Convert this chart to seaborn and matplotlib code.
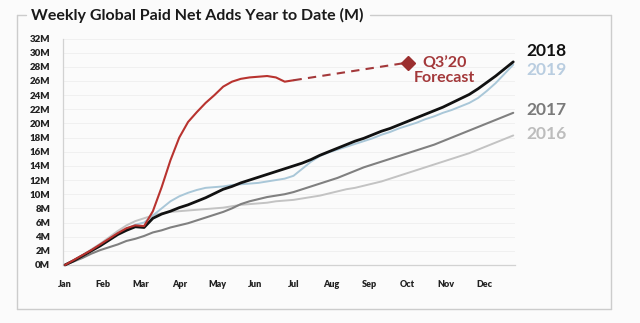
import numpy as np
import pandas as pd
import matplotlib
matplotlib.use("Agg")
import matplotlib.pyplot as plt
from matplotlib.lines import Line2D
import seaborn as sns

# Cumulative paid net adds (millions), one value per week of the year
weeks = list(range(52))
adds_2016 = [0.0, 0.7, 1.4, 2.2, 3.0, 3.9, 4.8, 5.6, 6.2, 6.6, 7.0, 7.3, 7.5, 7.6, 7.7, 7.8,
             7.9, 8.0, 8.1, 8.3, 8.5, 8.6, 8.7, 8.8, 9.0, 9.1, 9.2, 9.4, 9.6, 9.8, 10.1, 10.4,
             10.7, 10.9, 11.2, 11.5, 11.8, 12.2, 12.6, 13.0, 13.4, 13.8, 14.2, 14.6, 15.0, 15.4,
             15.8, 16.3, 16.8, 17.3, 17.8, 18.3]
adds_2017 = [0.0, 0.5, 1.0, 1.6, 2.1, 2.5, 2.9, 3.4, 3.7, 4.1, 4.6, 4.9, 5.3, 5.6, 5.9, 6.3,
             6.7, 7.1, 7.5, 8.0, 8.6, 9.0, 9.3, 9.6, 9.8, 10.0, 10.3, 10.7, 11.1, 11.5, 11.9, 12.3,
             12.8, 13.3, 13.8, 14.2, 14.6, 15.0, 15.4, 15.8, 16.2, 16.6, 17.0, 17.5, 18.0, 18.5,
             19.0, 19.5, 20.0, 20.5, 21.0, 21.5]
adds_2018 = [0.0, 0.6, 1.3, 2.0, 2.7, 3.5, 4.3, 4.9, 5.4, 5.3, 6.6, 7.2, 7.6, 8.1, 8.5, 9.0,
             9.5, 10.1, 10.7, 11.1, 11.6, 12.0, 12.4, 12.8, 13.2, 13.6, 14.0, 14.4, 14.9, 15.5, 16.0, 16.5,
             17.0, 17.5, 17.9, 18.4, 18.9, 19.3, 19.8, 20.3, 20.8, 21.3, 21.8, 22.3, 22.9, 23.5,
             24.1, 24.9, 25.8, 26.7, 27.7, 28.7]
adds_2019 = [0.0, 0.7, 1.4, 2.1, 2.8, 3.6, 4.4, 5.1, 5.7, 6.0, 7.0, 8.0, 9.0, 9.7, 10.2, 10.6,
             10.9, 11.0, 11.1, 11.3, 11.4, 11.5, 11.6, 11.8, 12.0, 12.2, 12.6, 13.6, 14.6, 15.4, 15.9, 16.3,
             16.7, 17.1, 17.5, 17.9, 18.4, 18.8, 19.3, 19.7, 20.1, 20.6, 21.0, 21.5, 21.9, 22.4,
             22.9, 23.6, 24.6, 25.7, 27.0, 28.3]
weeks_2020 = list(range(27))
adds_2020 = [0.0, 0.7, 1.4, 2.1, 2.9, 3.7, 4.5, 5.2, 5.6, 5.5, 7.6, 11.0, 14.8, 18.0, 20.2, 21.6,
             22.9, 24.0, 25.2, 25.9, 26.3, 26.5, 26.6, 26.7, 26.5, 25.9, 26.1]

# Q3'20 forecast segment
forecast_weeks = [26, 39]
forecast_adds = [26.1, 28.6]

months = ["Jan", "Feb", "Mar", "Apr", "May", "Jun", "Jul", "Aug", "Sep", "Oct", "Nov", "Dec"]
y_ticks = list(range(0, 33, 2))

colors = {"2016": "#c3c3c3", "2017": "#808080", "2019": "#a9c7d8", "2018": "#111111", "2020": "#b8332f"}
widths = {"2016": 1.4, "2017": 1.5, "2019": 1.4, "2018": 2.0, "2020": 1.5}
label_colors = {"2018": "#111111", "2019": "#b9cde0", "2017": "#7a7a7a", "2016": "#bdbdbd"}
label_y = {"2018": 30.2, "2019": 27.6, "2017": 21.9, "2016": 18.5}

frames = []
for yr, vals in [("2016", adds_2016), ("2017", adds_2017), ("2019", adds_2019), ("2018", adds_2018)]:
    frames.append(pd.DataFrame({"week": weeks, "adds": vals, "year": yr}))
frames.append(pd.DataFrame({"week": weeks_2020, "adds": adds_2020, "year": "2020"}))
df = pd.concat(frames, ignore_index=True)

sns.set_theme(style="white")
plt.rcParams["font.family"] = ["Lato", "DejaVu Sans"]

bg = "#fbfbfb"
fig = plt.figure(figsize=(6.4, 3.23), dpi=100, facecolor=bg)
ax = fig.add_axes([0.0981, 0.1796, 0.7066, 0.7012])
ax.set_facecolor(bg)

for yr in ["2016", "2017", "2019", "2018", "2020"]:
    sns.lineplot(data=df[df["year"] == yr], x="week", y="adds", color=colors[yr],
                 lw=widths[yr], ax=ax, legend=False, clip_on=False, zorder=3)

ax.plot(forecast_weeks, forecast_adds, ls=(0, (4, 3)), color="#a3383a", lw=1.5, clip_on=False, zorder=3)
ax.plot(forecast_weeks[-1:], forecast_adds[-1:], marker="D", ms=7, color="#9b2f2f",
        ls="none", clip_on=False, zorder=4)
ax.text(forecast_weeks[-1] + 4.2, 27.5, "Q3\u201920\nForecast", color="#a3383a",
        fontsize=11.5, fontweight="bold", ha="center", va="center", linespacing=1.1)

for yr, yv in label_y.items():
    ax.text(52.5, yv, yr, color=label_colors[yr], fontsize=12.5, fontweight="bold",
            ha="left", va="center", clip_on=False)

ax.set_xlim(-0.25, 51.2)
ax.set_ylim(0, 32)
ax.set_xticks(np.arange(12) * 52 / 12)
ax.set_xticklabels(months)
ax.set_yticks(y_ticks)
ax.set_yticklabels([f"{v}M" for v in y_ticks])
ax.set_xlabel("")
ax.set_ylabel("")
for lbl in ax.get_xticklabels() + ax.get_yticklabels():
    lbl.set_fontweight("heavy")
    lbl.set_color("#222222")
ax.tick_params(axis="x", length=0, pad=11, labelsize=6.5)
ax.tick_params(axis="y", length=3, width=0.6, color="#cfcfcf", pad=6, labelsize=7)
ax.yaxis.grid(True, color="#efefef", lw=0.6)
ax.set_axisbelow(True)
for side in ["top", "right"]:
    ax.spines[side].set_visible(False)
for side in ["left", "bottom"]:
    ax.spines[side].set_color("#d2d2d2")
    ax.spines[side].set_linewidth(0.9)

# Panel frame with the title breaking its top edge
W, H = 640, 323
def fx(px):
    return px / W
def fy(py):
    return 1 - py / H
frame_kw = dict(color="#cccccc", lw=1.0, transform=fig.transFigure)
fig.add_artist(Line2D([fx(17), fx(26)], [fy(15), fy(15)], **frame_kw))
fig.add_artist(Line2D([fx(370), fx(611)], [fy(15), fy(15)], **frame_kw))
fig.add_artist(Line2D([fx(17), fx(17)], [fy(15), fy(309)], **frame_kw))
fig.add_artist(Line2D([fx(611), fx(611)], [fy(15), fy(309)], **frame_kw))
fig.add_artist(Line2D([fx(17), fx(611)], [fy(309), fy(309)], **frame_kw))
fig.text(fx(31), fy(15), "Weekly Global Paid Net Adds Year to Date (M)", fontsize=11.5,
         fontweight="bold", color="#1a1a1a", ha="left", va="center")

fig.savefig("out.png", dpi=100, facecolor=bg)
